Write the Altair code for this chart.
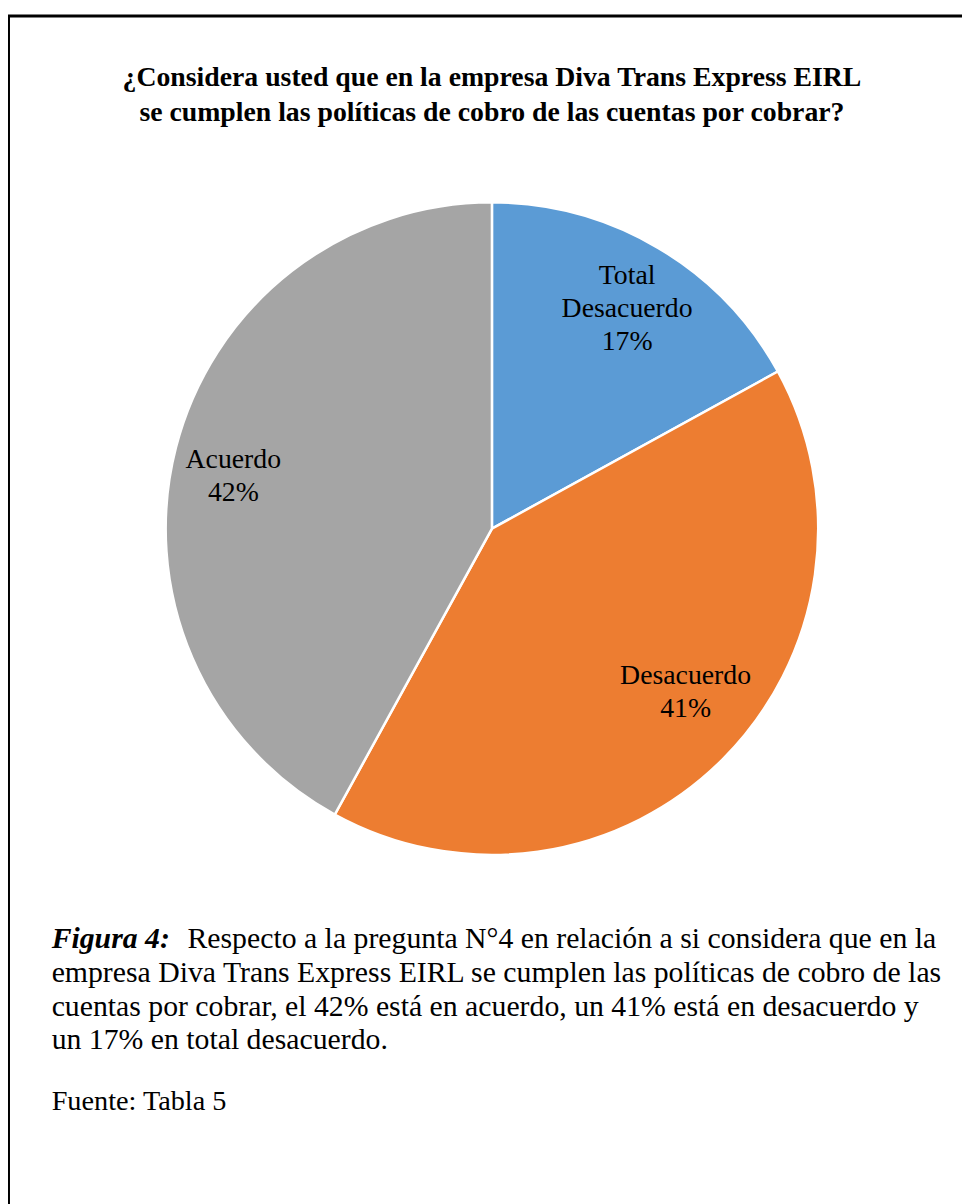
import altair as alt
import pandas as pd

# ---- data ----
categories = ["Total Desacuerdo", "Desacuerdo", "Acuerdo"]
label_lines = ["Total\nDesacuerdo", "Desacuerdo", "Acuerdo"]
percents = [17, 41, 42]
colors = ["#5B9BD5", "#ED7D31", "#A5A5A5"]

title_lines = [
    "¿Considera usted que en la empresa Diva Trans Express EIRL",
    "se cumplen las políticas de cobro de las cuentas por cobrar?",
]
caption_head = "Figura 4:"
caption_lines = [
    "Respecto a la pregunta N°4 en relación a si considera que en la",
    "empresa Diva Trans Express EIRL se cumplen las políticas de cobro de las",
    "cuentas por cobrar, el 42% está en acuerdo, un 41% está en desacuerdo y",
    "un 17% en total desacuerdo.",
]
source_text = "Fuente: Tabla 5"

df = pd.DataFrame({
    "cat": categories,
    "pct": percents,
    "order": list(range(len(categories))),
})
df["label"] = [f"{l}\n{p}%" for l, p in zip(label_lines, percents)]

W, H = 962, 1196
CX, CY, R = 488, 520, 329
FONT = "Liberation Serif"
LH = 33

base = alt.Chart(df).encode(
    theta=alt.Theta("pct:Q", stack=True),
    order=alt.Order("order:Q"),
)

pie = base.mark_arc(outerRadius=R, stroke="white", strokeWidth=2.5).encode(
    color=alt.Color("cat:N", scale=alt.Scale(domain=categories, range=colors), legend=None),
    x=alt.value(CX), y=alt.value(CY),
)

# label placement tweaks (best-fit style), one layer per slice
label_style = {
    "Total Desacuerdo": dict(radius=254, dx=7, dy=-3),
    "Desacuerdo": dict(radius=262, dx=10, dy=-20),
    "Acuerdo": dict(radius=262, dx=-7, dy=13),
}

label_layers = []
for cat, st in label_style.items():
    n = df.loc[df["cat"] == cat, "label"].iloc[0].count("\n") + 1
    label_layers.append(
        base.mark_text(
            radius=st["radius"], font=FONT, fontSize=28, lineBreak="\n", lineHeight=LH,
            align="center", baseline="middle", color="black",
            dx=st["dx"], dy=st["dy"] - (n - 1) * LH / 2,
        ).encode(
            text="lbl:N", x=alt.value(CX), y=alt.value(CY)
        ).transform_calculate(
            lbl=f"datum.cat === '{cat}' ? datum.label : ''"
        )
    )

anchor = alt.Chart(pd.DataFrame({"a": [0]}))

title = anchor.mark_text(
    text=title_lines, font=FONT, fontSize=28, fontWeight="bold", lineHeight=35,
    align="center", baseline="middle", color="black",
).encode(x=alt.value(CX), y=alt.value(66))

head = anchor.mark_text(
    text=caption_head, font=FONT, fontSize=30, fontWeight="bold", fontStyle="italic",
    align="left", baseline="alphabetic", color="black",
).encode(x=alt.value(44), y=alt.value(943))

cap_first = anchor.mark_text(
    text=caption_lines[0], font=FONT, fontSize=30,
    align="left", baseline="alphabetic", color="black",
).encode(x=alt.value(181), y=alt.value(943))

cap_rest = anchor.mark_text(
    text=caption_lines[1:], font=FONT, fontSize=30, lineHeight=34,
    align="left", baseline="alphabetic", color="black",
).encode(x=alt.value(44), y=alt.value(977))

source = anchor.mark_text(
    text=source_text, font=FONT, fontSize=28.5,
    align="left", baseline="alphabetic", color="black",
).encode(x=alt.value(44), y=alt.value(1106))

frame_left = anchor.mark_rule(color="black", strokeWidth=3).encode(
    x=alt.value(0.5), y=alt.value(3), y2=alt.value(H + 10)
)
frame_top = anchor.mark_rule(color="black", strokeWidth=3).encode(
    x=alt.value(-1), x2=alt.value(W + 10), y=alt.value(3)
)

chart = alt.layer(
    pie, *label_layers, title, head, cap_first, cap_rest, source, frame_left, frame_top
).properties(
    width=W, height=H, padding=0, autosize=alt.AutoSizeParams(type="none"),
    background="white",
).configure_view(stroke=None)

chart.save("out.html", embed_options={"renderer": "svg", "actions": False})
